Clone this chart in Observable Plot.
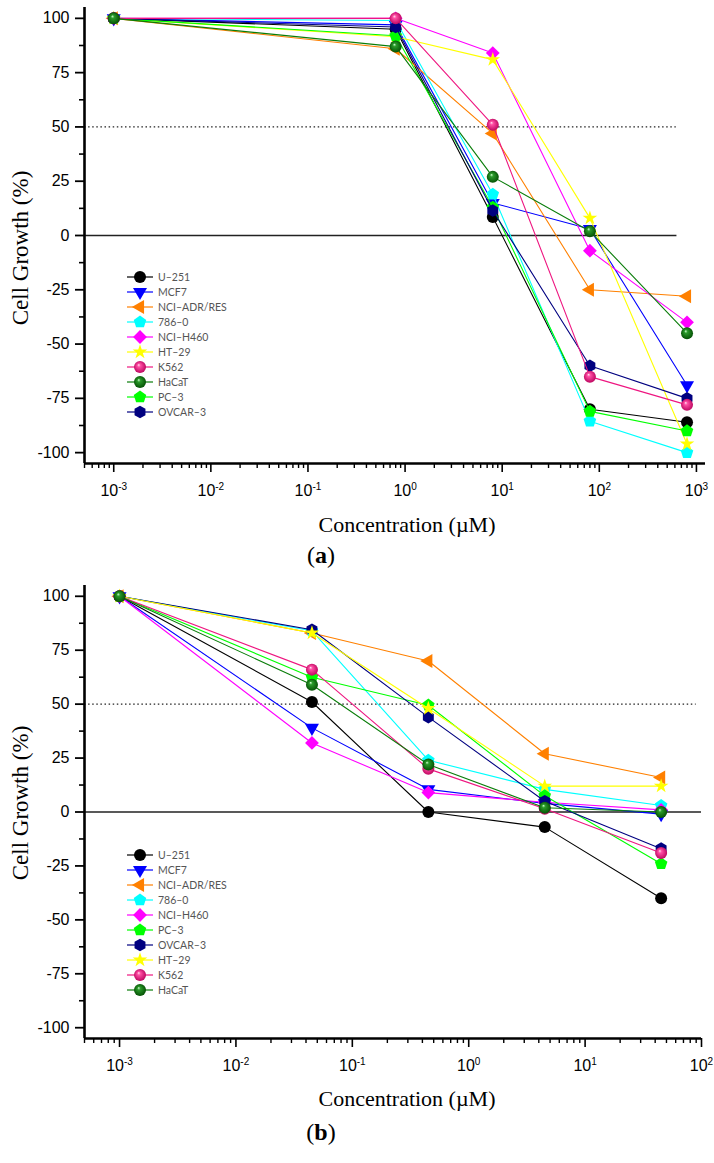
<!DOCTYPE html>
<html><head><meta charset="utf-8">
<script src="https://cdn.jsdelivr.net/npm/d3@7"></script>
<script src="https://cdn.jsdelivr.net/npm/@observablehq/plot@0.6"></script>
<style>
body{margin:0;background:#fff;}
#wrap{position:relative;width:714px;height:1163px;overflow:hidden;}
#wrap svg{position:absolute;left:0;}
</style></head><body><div id="wrap"></div>
<script>
// ---------- Panel (a) data ----------
const concA = [0.001, 0.8, 8, 80, 800];
const namesA = ["U–251","MCF7","NCI–ADR/RES","786–0","NCI–H460","HT–29","K562","HaCaT","PC–3","OVCAR–3"];
const growthA_U251   = [100, 95, 8.5, -80, -86];
const growthA_MCF7   = [100, 97, 15, 3, -69];
const growthA_NCIADR = [100, 86, 47, -25, -28];
const growthA_786    = [100, 99, 19, -85.5, -100];
const growthA_H460   = [100, 100, 84, -7, -40];
const growthA_HT29   = [100, 91.5, 81, 8, -96];
const growthA_K562   = [100, 100, 51, -65, -78];
const growthA_HaCaT  = [100, 87, 27, 2, -45];
const growthA_PC3    = [100, 92, 13, -81, -90];
const growthA_OVCAR  = [100, 96, 11.5, -60, -75];

// ---------- Panel (b) data ----------
const concB = [0.001, 0.045, 0.45, 4.5, 45];
const namesB = ["U–251","MCF7","NCI–ADR/RES","786–0","NCI–H460","PC–3","OVCAR–3","HT–29","K562","HaCaT"];
const growthB_U251   = [100, 51, 0, -7, -40];
const growthB_MCF7   = [100, 39, 10.5, 4, -1];
const growthB_NCIADR = [100, 83, 70, 27, 16];
const growthB_786    = [100, 84, 24, 10.5, 3];
const growthB_H460   = [100, 32, 9, 4.5, 1];
const growthB_PC3    = [100, 62.5, 49.5, 7.5, -24];
const growthB_OVCAR  = [100, 84.5, 44, 5, -17];
const growthB_HT29   = [100, 83, 48, 12, 12];
const growthB_K562   = [100, 66, 20, 1.5, -19];
const growthB_HaCaT  = [100, 59, 22, 2, 0];

// ---------- axis ticks ----------
const yMajor = [-100, -75, -50, -25, 0, 25, 50, 75, 100];
const yMinor = [-87.5, -62.5, -37.5, -12.5, 12.5, 37.5, 62.5, 87.5];
const xMajorA = [1e-3, 1e-2, 1e-1, 1, 10, 100, 1000];
const xMajorB = [1e-3, 1e-2, 1e-1, 1, 10, 100];

// ---------- styles ----------
function poly(n, rot, k) {
  return {draw(ctx, size) {
    const r = Math.sqrt(size / Math.PI) * k;
    for (let i = 0; i < n; i++) {
      const a = rot + 2 * Math.PI * i / n;
      const x = r * Math.sin(a), y = -r * Math.cos(a);
      if (i) ctx.lineTo(x, y); else ctx.moveTo(x, y);
    }
    ctx.closePath();
  }};
}
const symDown = poly(3, Math.PI, 1.35);
const symLeft = poly(3, -Math.PI / 2, 1.35);
const symPent = poly(5, 0, 1.1);
const symHex = poly(6, 0, 1.05);
const symDiam = poly(4, 0, 1.15);

const style = {
  "U–251":       {color: "#000000", sym: d3.symbolCircle, r: 6},
  "MCF7":        {color: "#0000ff", sym: symDown, r: 6},
  "NCI–ADR/RES": {color: "#ff8000", sym: symLeft, r: 6},
  "786–0":       {color: "#00ffff", sym: symPent, r: 6},
  "NCI–H460":    {color: "#ff00ff", sym: symDiam, r: 6},
  "HT–29":       {color: "#ffff00", sym: d3.symbolStar, r: 4.6},
  "K562":        {color: "#ee1680", sym: d3.symbolCircle, r: 6, grad: "Pink"},
  "HaCaT":       {color: "#0a7d0a", sym: d3.symbolCircle, r: 6, grad: "Green"},
  "PC–3":        {color: "#00ff00", sym: symPent, r: 6},
  "OVCAR–3":     {color: "#000080", sym: symHex, r: 6}
};
const gradStops = {
  Pink:  [["0%", "#ffe0f0"], ["25%", "#ff4fa5"], ["100%", "#b8005a"]],
  Green: [["0%", "#d0ffd0"], ["25%", "#2a9a2a"], ["100%", "#004a00"]]
};

const fmtY = d => d < 0 ? "-" + Math.abs(d) : String(d);
const fmtX = d => "10^" + Math.round(Math.log10(d));
const serif = "Liberation Serif, Times New Roman, serif";

function makePanel(cfg) {
  const {id, conc, names, values, drawOrder, xDomain, xMajor, top, height, marginTop, marginBottom, marginRight,
         zeroX2, halfX2, yTitleY, xTitleY, legendY, panelLabel, panelLabelY} = cfg;
  const xMinor = [];
  for (let e = -4; e <= 3; e++) for (let m = 2; m <= 9; m++) {
    const v = m * Math.pow(10, e);
    if (v >= xDomain[0] && v <= xDomain[1]) xMinor.push(v);
  }
  const fillOf = n => style[n].grad ? `url(#sph${style[n].grad}${id})` : style[n].color;
  const seriesMarks = drawOrder.flatMap(n => {
    const i = names.indexOf(n);
    const rows = conc.map((c, j) => ({x: c, y: values[i][j]}));
    return [
      Plot.line(rows, {x: "x", y: "y", stroke: style[n].color, strokeWidth: 1.1}),
      Plot.dot(rows, {x: "x", y: "y", symbol: style[n].sym, r: style[n].r, fill: fillOf(n), stroke: "none"})
    ];
  });
  const svg = Plot.plot({
    width: 714, height, marginLeft: 84, marginRight, marginTop, marginBottom,
    style: {fontFamily: "Liberation Sans, Arial, sans-serif", fontSize: "16px", color: "black", background: "white", overflow: "visible"},
    x: {type: "log", domain: xDomain, label: null},
    y: {domain: [-105, 105], label: null},
    marks: [
      Plot.ruleY([50], {x1: xDomain[0], x2: halfX2, stroke: "#222", strokeWidth: 1.2, strokeDasharray: "1.5,2.6"}),
      Plot.ruleY([0], {x1: xDomain[0], x2: zeroX2, stroke: "#222", strokeWidth: 1.3}),
      ...seriesMarks,
      Plot.axisY({ticks: yMajor, tickSize: 9, tickPadding: 6, tickFormat: fmtY, strokeWidth: 1.8, fontSize: 16, label: null}),
      Plot.axisY({ticks: yMinor, tickSize: 5, tickFormat: () => "", strokeWidth: 1.6, label: null}),
      Plot.axisX({ticks: xMajor, tickSize: 9, tickPadding: 12, tickFormat: fmtX, strokeWidth: 1.6, fontSize: 16, label: null}),
      Plot.axisX({ticks: xMinor, tickSize: 5, tickFormat: () => "", strokeWidth: 1.4, label: null}),
      Plot.ruleX([xDomain[0]], {strokeWidth: 2.6}),
      Plot.ruleY([-105], {strokeWidth: 2.6})
    ]
  });
  svg.style.top = top + "px";
  const s = d3.select(svg);
  const defs = s.insert("defs", ":first-child");
  for (const g of Object.keys(gradStops)) {
    const rg = defs.append("radialGradient").attr("id", `sph${g}${id}`).attr("cx", "50%").attr("cy", "50%").attr("r", "55%").attr("fx", "38%").attr("fy", "32%");
    for (const [o, c] of gradStops[g]) rg.append("stop").attr("offset", o).attr("stop-color", c);
  }
  s.selectAll('g[aria-label="x-axis tick label"] text').each(function() {
    const t = d3.select(this);
    const txt = t.text();
    if (!txt.includes("^")) return;
    const e = txt.split("^")[1];
    t.text("10");
    t.append("tspan").attr("dy", "-0.55em").attr("font-size", "10px").text(e);
  });
  // axis titles
  s.append("text").attr("transform", `translate(28,${yTitleY}) rotate(-90)`).attr("text-anchor", "middle")
    .attr("font-family", serif).attr("font-size", 23).attr("fill", "black").text("Cell Growth (%)");
  s.append("text").attr("x", 407).attr("y", xTitleY).attr("text-anchor", "middle")
    .attr("font-family", serif).attr("font-size", 22).attr("fill", "black").text("Concentration (µM)");
  // legend
  const lg = s.append("g").attr("transform", `translate(0,${legendY})`).attr("text-anchor", "start");
  names.forEach((n, i) => {
    const row = lg.append("g").attr("transform", `translate(0,${i * 15})`);
    row.append("line").attr("x1", 127).attr("x2", 153).attr("y1", 0).attr("y2", 0).attr("stroke", style[n].color).attr("stroke-width", 1.2);
    const size = Math.PI * style[n].r * style[n].r;
    row.append("path").attr("transform", "translate(140,0)").attr("d", d3.symbol(style[n].sym, size)()).attr("fill", fillOf(n));
    row.append("text").attr("x", 158).attr("y", 0).attr("dy", "0.35em").attr("text-anchor", "start")
      .attr("font-family", "Lato, Open Sans, sans-serif").attr("font-size", 10.5).attr("fill", "#555").text(n);
  });
  // panel label
  const pl = s.append("text").attr("x", 321).attr("y", panelLabelY).attr("text-anchor", "middle")
    .attr("font-family", serif).attr("font-size", 24).attr("fill", "black");
  pl.append("tspan").text("(");
  pl.append("tspan").attr("font-weight", "bold").text(panelLabel);
  pl.append("tspan").text(")");
  document.getElementById("wrap").appendChild(svg);
}

makePanel({
  id: "A", conc: concA, names: namesA,
  values: [growthA_U251, growthA_MCF7, growthA_NCIADR, growthA_786, growthA_H460, growthA_HT29, growthA_K562, growthA_HaCaT, growthA_PC3, growthA_OVCAR],
  drawOrder: ["U–251","MCF7","NCI–ADR/RES","786–0","NCI–H460","HT–29","PC–3","OVCAR–3","K562","HaCaT"],
  xDomain: [5e-4, 1240], xMajor: xMajorA, top: 0, height: 575, marginTop: 7, marginBottom: 112, marginRight: 9,
  zeroX2: 630, halfX2: 620, yTitleY: 248, xTitleY: 532, legendY: 277, panelLabel: "a", panelLabelY: 563
});
makePanel({
  id: "B", conc: concB, names: namesB,
  values: [growthB_U251, growthB_MCF7, growthB_NCIADR, growthB_786, growthB_H460, growthB_PC3, growthB_OVCAR, growthB_HT29, growthB_K562, growthB_HaCaT],
  drawOrder: namesB,
  xDomain: [5e-4, 100], xMajor: xMajorB, top: 575, height: 588, marginTop: 10, marginBottom: 125, marginRight: 13,
  zeroX2: 100, halfX2: 90, yTitleY: 228, xTitleY: 531, legendY: 280, panelLabel: "b", panelLabelY: 565
});
</script></body></html>
